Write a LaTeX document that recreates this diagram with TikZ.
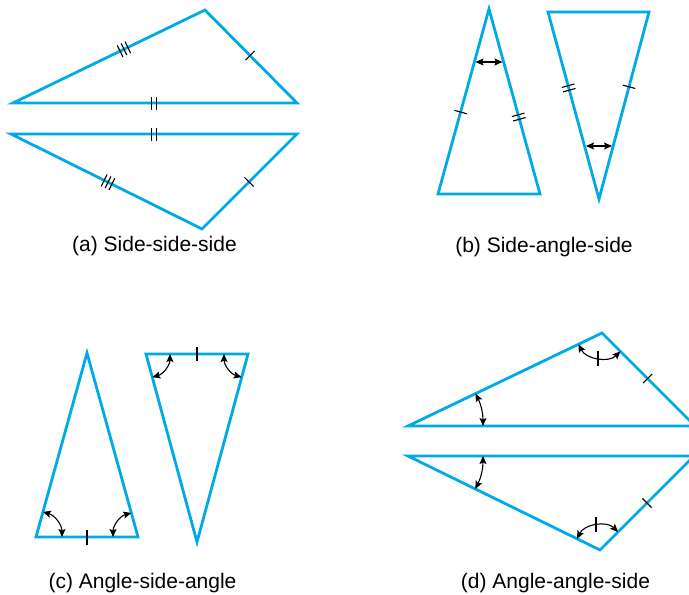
\documentclass[tikz,border=0pt]{standalone}
\usepackage{fontspec}
\setmainfont{Liberation Sans}
\usetikzlibrary{calc,arrows.meta}
\definecolor{triblue}{RGB}{0,170,230}
\tikzset{
  tri/.style={draw=triblue, line width=2.8pt, line join=miter},
  tickmark/.style={draw=black, line width=1.1pt},
  anglearrow/.style={draw=black, line width=1.1pt,
    {Stealth[length=8pt,width=7pt,inset=1.5pt]}-{Stealth[length=8pt,width=7pt,inset=1.5pt]}},
  caption/.style={font=\fontsize{21}{25}\selectfont, anchor=base, inner sep=0pt}
}
\newcommand\oneTick[3]{%
  \draw[tickmark] ($(#1)!#3!(#2)!6.5pt!90:(#2)$) -- ($(#1)!#3!(#2)!6.5pt!-90:(#2)$);}
\newcommand\offTick[4]{%
  \draw[tickmark] ($(#1)!#3!(#2)!#4!(#2)!6.5pt!90:(#2)$) -- ($(#1)!#3!(#2)!#4!(#2)!6.5pt!-90:(#2)$);}
\newcommand\twoTick[3]{\offTick{#1}{#2}{#3}{2.3pt}\offTick{#1}{#2}{#3}{-2.3pt}}
\newcommand\threeTick[3]{\offTick{#1}{#2}{#3}{4.3pt}\offTick{#1}{#2}{#3}{0pt}\offTick{#1}{#2}{#3}{-4.3pt}}
\newcommand\angArc[5]{%
  \draw[anglearrow] ($(#1)!#4!(#2)$) to[#5] ($(#1)!#4!(#3)$);}
\begin{document}
\begin{tikzpicture}[x=1pt,y=-1pt]
\useasboundingbox (0,0) rectangle (689,595);
\clip (0,0) rectangle (689,595);
% ---------- (a) ----------
\coordinate (aL) at (13,103);
\coordinate (aT) at (205,10);
\coordinate (aR) at (297,103);
\coordinate (bL) at (11,134);
\coordinate (bR) at (297,134);
\coordinate (bB) at (202,229);
\draw[tri] (aL) -- (aT) -- (aR) -- cycle;
\draw[tri] (bL) -- (bB) -- (bR) -- cycle;
\threeTick{aL}{aT}{0.578}
\oneTick{aT}{aR}{0.49}
\twoTick{aL}{aR}{0.497}
\twoTick{bL}{bR}{0.5}
\threeTick{bL}{bB}{0.508}
\oneTick{bB}{bR}{0.495}
\node[caption] (capa) at (154.5,251) {(a) Side-side-side};
% ---------- (b) ----------
\coordinate (cA) at (489,9);
\coordinate (cL) at (438,194);
\coordinate (cR) at (540,194);
\coordinate (dL) at (548,12);
\coordinate (dR) at (649,12);
\coordinate (dB) at (599,199);
\draw[tri] (cA) -- (cL) -- (cR) -- cycle;
\draw[tri] (dL) -- (dR) -- (dB) -- cycle;
\oneTick{cA}{cL}{0.557}
\twoTick{cA}{cR}{0.584}
\twoTick{dL}{dB}{0.406}
\oneTick{dR}{dB}{0.40}
\coordinate (cw1) at (475.5,62);
\coordinate (cw2) at (502.5,62);
\draw[anglearrow] (cw1) -- (cw2);
\coordinate (dw1) at (586,146);
\coordinate (dw2) at (612,146);
\draw[anglearrow] (dw1) -- (dw2);
\node[caption] (capb) at (544,252) {(b) Side-angle-side};
% ---------- (c) ----------
\coordinate (eA) at (87,353);
\coordinate (eL) at (36,537);
\coordinate (eR) at (138,537);
\coordinate (fL) at (146,354);
\coordinate (fR) at (248,354);
\coordinate (fB) at (197,542);
\draw[tri] (eA) -- (eL) -- (eR) -- cycle;
\draw[tri] (fL) -- (fR) -- (fB) -- cycle;
\angArc{eL}{eA}{eR}{26pt}{bend left=37}
\angArc{eR}{eL}{eA}{25pt}{bend left=37}
\angArc{fL}{fR}{fB}{24pt}{bend left=37}
\angArc{fR}{fL}{fB}{24pt}{bend right=37}
\coordinate (et1) at (87,530);
\coordinate (et2) at (87,545);
\draw[tickmark] (et1) -- (et2);
\coordinate (ft1) at (197,347);
\coordinate (ft2) at (197,361);
\draw[tickmark] (ft1) -- (ft2);
\node[caption] (capc) at (142.5,588) {(c) Angle-side-angle};
% ---------- (d) ----------
\coordinate (gL) at (408,426);
\coordinate (gT) at (602,333);
\coordinate (gR) at (695,426);
\coordinate (hL) at (408,456);
\coordinate (hB) at (600,550);
\coordinate (hR) at (694,456);
\draw[tri] (gL) -- (gT) -- (gR) -- cycle;
\draw[tri] (hL) -- (hB) -- (hR) -- cycle;
\angArc{gL}{gT}{gR}{75pt}{bend left=12.8}
\angArc{gT}{gL}{gR}{26pt}{bend right=54.4}
\angArc{hL}{hR}{hB}{75pt}{bend left=13}
\angArc{hB}{hL}{hR}{25.5pt}{bend left=54.5}
\oneTick{gT}{gR}{0.49}
\oneTick{hB}{hR}{0.5}
\coordinate (gt1) at (598,350.5);
\coordinate (gt2) at (598,366);
\draw[tickmark] (gt1) -- (gt2);
\coordinate (ht1) at (596,532);
\coordinate (ht2) at (596,516.5);
\draw[tickmark] (ht1) -- (ht2);
\node[caption] (capd) at (555.5,588) {(d) Angle-angle-side};
\end{tikzpicture}
\end{document}
